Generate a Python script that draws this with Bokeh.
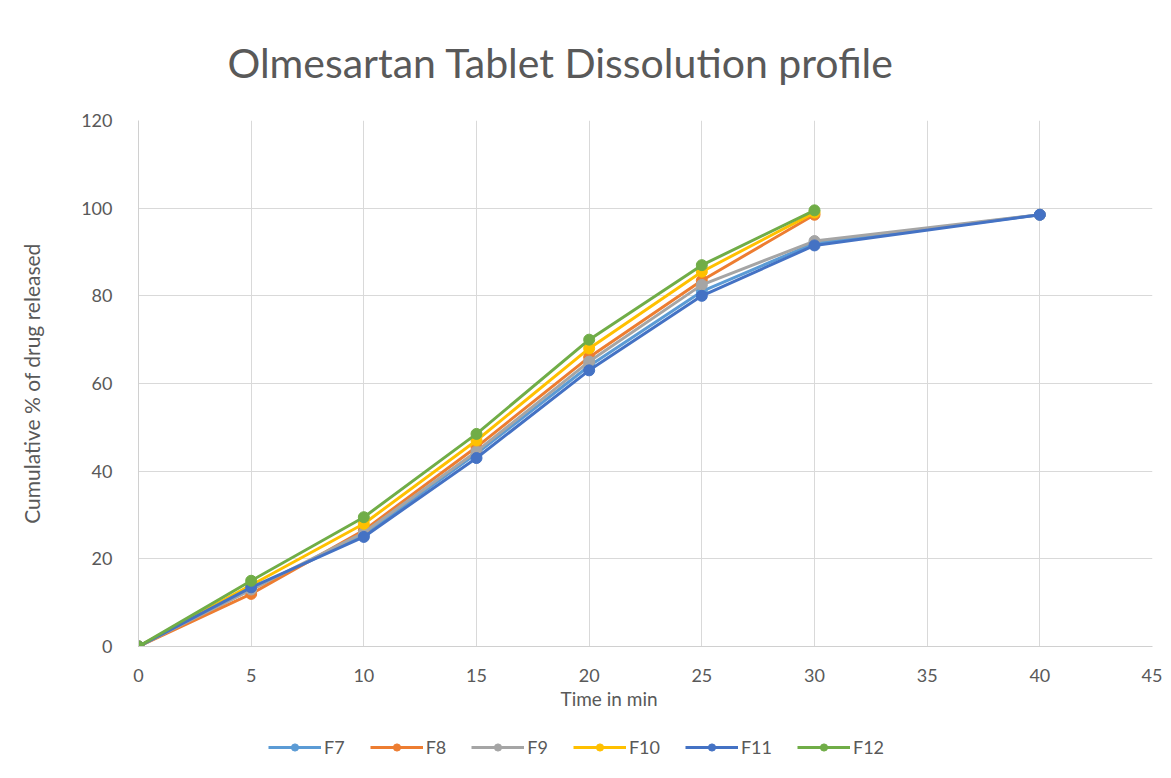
from bokeh.plotting import figure
from bokeh.layouts import column
from bokeh.models import Legend, LegendItem, Title, Range1d, FixedTicker
from bokeh.embed import file_html
from bokeh.resources import INLINE

time_min = [0, 5, 10, 15, 20, 25, 30, 40]
F7 = [0, 13, 25.5, 44, 64, 81, 92, 98.5]
F8 = [0, 12, 26.5, 45.5, 66, 83.5, 98.5]
F9 = [0, 13, 26, 44.5, 65, 82.5, 92.5, 98.5]
F10 = [0, 14, 28, 47, 68, 85.5, 99]
F11 = [0, 13.5, 25, 43, 63, 80, 91.5, 98.5]
F12 = [0, 15, 29.5, 48.5, 70, 87, 99.5]

names = ["F7", "F8", "F9", "F10", "F11", "F12"]
series = [F7, F8, F9, F10, F11, F12]
colors = ["#5B9BD5", "#ED7D31", "#A5A5A5", "#FFC000", "#4472C4", "#70AD47"]

x_ticks = [0, 5, 10, 15, 20, 25, 30, 35, 40, 45]
y_ticks = [0, 20, 40, 60, 80, 100, 120]

FONT = "Lato"
TXT = "#595959"

p = figure(width=1162, height=715, output_backend="svg", toolbar_location=None,
           x_range=Range1d(0, 45), y_range=Range1d(0, 120),
           min_border_left=138, min_border_right=10, min_border_top=120,
           min_border_bottom=69)

p.title.text = "Olmesartan Tablet Dissolution profile"
p.title.text_font = FONT
p.title.text_font_size = "41px"
p.title.text_font_style = "normal"
p.title.text_color = TXT
p.title.align = "left"
p.title.offset = 89
p.title.standoff = 67

p.outline_line_color = None
p.background_fill_color = "white"
p.border_fill_color = "white"

for ax in (p.xaxis[0], p.yaxis[0]):
    ax.major_tick_line_color = None
    ax.minor_tick_line_color = None
    ax.axis_line_color = "#d0d0d0"
    ax.major_label_text_font = FONT
    ax.major_label_text_font_size = "18px"
    ax.major_label_text_color = TXT
    ax.axis_label_text_font = FONT
    ax.axis_label_text_font_size = "21px"
    ax.axis_label_text_color = TXT
    ax.axis_label_text_font_style = "normal"

p.xaxis.ticker = FixedTicker(ticks=x_ticks)
p.yaxis.ticker = FixedTicker(ticks=y_ticks)
p.xaxis.major_label_standoff = 16
p.yaxis.major_label_standoff = 20
p.yaxis.axis_label = "Cumulative % of drug released"
p.yaxis.axis_label_standoff = 34

p.xgrid.grid_line_color = "#d9d9d9"
p.ygrid.grid_line_color = "#d9d9d9"

for name, vals, col in zip(names, series, colors):
    xs = time_min[:len(vals)]
    p.line(xs, vals, line_color=col, line_width=3)
    p.scatter(xs, vals, marker="circle", size=11, fill_color=col, line_color=col)

xlab = Title(text="Time in min", text_font=FONT, text_font_size="19px",
             text_color=TXT, text_font_style="normal", align="left",
             offset=422, standoff=0)
p.add_layout(xlab, "below")

# legend strip below the chart (same series, kept out of its visible range)
lg = figure(width=1162, height=55, output_backend="svg", toolbar_location=None,
            x_range=Range1d(-20, -19), y_range=Range1d(-20, -19),
            x_axis_location=None, y_axis_location=None,
            min_border_left=0, min_border_right=0, min_border_top=0,
            min_border_bottom=0)
lg.outline_line_color = None
lg.xgrid.visible = False
lg.ygrid.visible = False

items = []
for name, vals, col in zip(names, series, colors):
    xs = time_min[:len(vals)]
    r1 = lg.line(xs, vals, line_color=col, line_width=3)
    r2 = lg.scatter(xs, vals, marker="circle", size=11, fill_color=col, line_color=col)
    items.append(LegendItem(label=name, renderers=[r1, r2]))

legend = Legend(items=items, orientation="horizontal", location=(130, 12),
                label_text_font=FONT, label_text_font_size="18px",
                label_text_color=TXT, glyph_width=53, glyph_height=18,
                spacing=25, label_standoff=3, border_line_color=None,
                background_fill_alpha=0, padding=4, margin=0)
lg.add_layout(legend, "center")

layout = column(p, lg, spacing=0)
open("out.html", "w").write(file_html(layout, INLINE))
